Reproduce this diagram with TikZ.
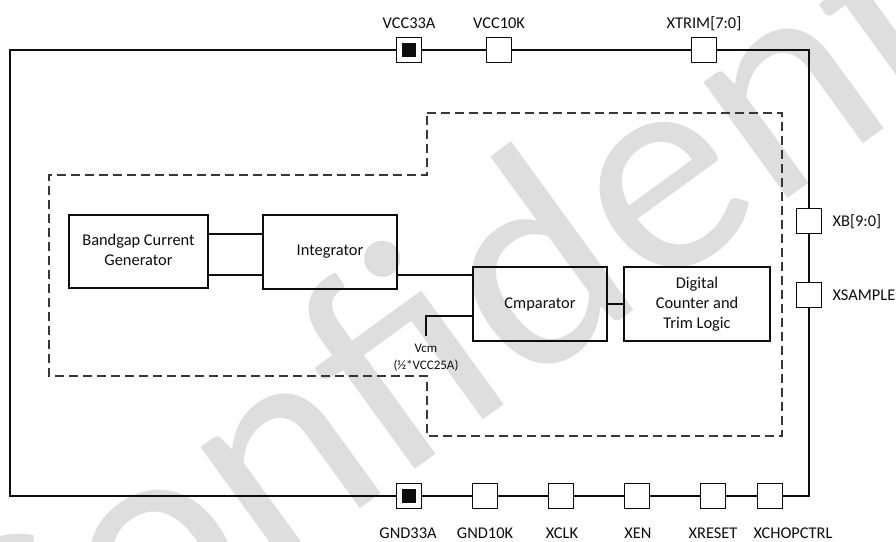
\documentclass[tikz,border=0pt]{standalone}
\usepackage{fontspec}
\setmainfont{Carlito}
\usetikzlibrary{positioning}
\definecolor{ink}{gray}{0.05}
\definecolor{dashgray}{gray}{0.22}
\definecolor{wmgray}{gray}{0.87}

\begin{document}
\begin{tikzpicture}[x=1pt, y=-1pt, line width=1.2pt, font=\fontsize{16.4}{20}\selectfont,
    block/.style={draw=ink, inner sep=0pt, align=center, text=ink},
    pin/.style={draw=ink, fill=white, minimum size=25pt, inner sep=0pt},
    pinlabel/.style={text=ink, inner sep=0pt},
    region/.style={draw=dashgray, dash pattern=on 9pt off 5pt}]
  \useasboundingbox (0,0) rectangle (896,541);
  \begin{scope}
    \clip (0,0) rectangle (896,541);
    \node[wmgray, rotate=36, font=\fontsize{300}{300}\selectfont] (wmark) at (547,246) {Confidential};
  \end{scope}

  \draw[ink, line width=1.4pt] (10,50) rectangle (809,496);
  \draw[region] (427,113) -- (782,113) -- (782,436) -- (427,436) -- (427,376)
    -- (49,376) -- (49,175) -- (427,175) -- cycle;

  \node[block, minimum width=139pt, minimum height=73pt] (bgap) at (138.5,251.5) {\raisebox{-4pt}{\begin{tabular}{@{}c@{}}Bandgap Current\\Generator\end{tabular}}};
  \node[block, minimum width=134pt, minimum height=74pt] (integ) at (330,252) {Integrator};
  \node[block, minimum width=134pt, minimum height=74pt] (cmp) at (540,304) {Cmparator};
  \node[block, minimum width=146pt, minimum height=74pt] (dig) at (697,304) {Digital\\Counter and\\Trim Logic};

  \coordinate (b1) at ([yshift=17.5pt]bgap.east);
  \coordinate (b2) at ([yshift=-23.5pt]bgap.east);
  \coordinate (i1) at ([yshift=-23pt]integ.east);
  \coordinate (c1) at ([yshift=-12pt]cmp.west);
  \coordinate (vtap) at (426,336);
  \draw[ink] (b1) -- (b1 -| integ.west);
  \draw[ink] (b2) -- (b2 -| integ.west);
  \draw[ink] (i1) -- (i1 -| cmp.west);
  \draw[ink] (cmp) -- (dig);
  \draw[ink] (c1) -| (vtap);
  \node[pinlabel, below=8pt of vtap, align=center, font=\fontsize{13}{17}\selectfont] (vcm) {Vcm\\(½*VCC25A)};

  \foreach \x/\n/\t in {409/vcca/VCC33A, 499/vcck/VCC10K, 704/xtrim/{XTRIM[7:0]}}{
    \node[pin] (\n) at (\x,50) {};
    \node[pinlabel, anchor=base] (\n-l) at (\x,28) {\t};
  }
  \foreach \y/\n/\t in {221/xb/{XB[9:0]}, 295/xsmp/XSAMPLE}{
    \node[pin] (\n) at (809,\y) {};
    \node[pinlabel, anchor=base west] (\n-l) at (832,\y+5) {\t};
  }
  \foreach \x/\lx/\n/\t in {409/408/gnda/GND33A, 485/485/gndk/GND10K, 561/562/xclk/XCLK,
      637/638/xen/XEN, 713/713/xrst/XRESET, 770/793/xchop/XCHOPCTRL}{
    \node[pin] (\n) at (\x,496) {};
    \node[pinlabel, anchor=base] (\n-l) at (\lx,538) {\t};
  }
  \fill[ink] ([shift={(-7pt,-7pt)}]vcca.center) rectangle ([shift={(7pt,7pt)}]vcca.center);
  \fill[ink] ([shift={(-7pt,-7pt)}]gnda.center) rectangle ([shift={(7pt,7pt)}]gnda.center);
\end{tikzpicture}
\end{document}
